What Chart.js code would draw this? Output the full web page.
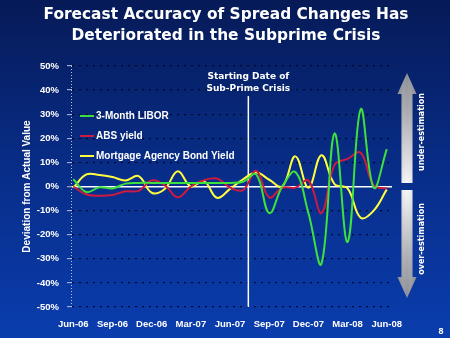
<!DOCTYPE html>
<html><head><meta charset="utf-8">
<script src="https://cdn.jsdelivr.net/npm/chart.js@4.4.1/dist/chart.umd.min.js"></script>
<style>
html,body{margin:0;padding:0;background:#08308f;}
canvas{display:block}
</style></head><body>
<canvas id="c" width="450" height="338"></canvas>
<script>
const titleLines = ['Forecast Accuracy of Spread Changes Has', 'Deteriorated in the Subprime Crisis'];
const monthIndex = [0,1,2,3,4,5,6,7,8,9,10,11,12,13,14,15,16,17,18,19,20,21,22,23,24];
const tickPositions = [0,3,6,9,12,15,18,21,24];
const tickLabels = ['Jun-06','Sep-06','Dec-06','Mar-07','Jun-07','Sep-07','Dec-07','Mar-08','Jun-08'];
const seriesNames = ['3-Month LIBOR', 'ABS yield', 'Mortgage Agency Bond Yield'];
const libor    = [3, -2.3, -0.3, -0.8, 1.2, 1.5, 1.5, 1.5, 1.5, 1.5, 1.5, 1.5, 1.5, 2, 5, -11, 0, 6, -11, -32, 22, -23, 32, -0.5, 15.5];
const absYield = [0, -3.3, -3.8, -3.5, -2, -1.8, 2.5, 0.5, -4.5, 0, 2.6, 3.3, -0.4, -1.5, 6.5, -4.5, -0.5, -0.5, 2.5, -11, 9, 11.5, 14, 0.5, -0.8];
const mortgage = [-0.5, 5, 4.8, 3.9, 2.5, 4.3, -2.6, -1, 6.3, 0, 2.2, -4.7, -1, 3, 5.8, 2.8, 0, 12.5, -0.5, 13, 1, -0.8, -13, -10, -1.2];
const seriesColors = ['#3ee03e', '#cc1a40', '#ffff40'];
const yTickValues = [-50,-40,-30,-20,-10,0,10,20,30,40,50];
const yTitle = 'Deviation from Actual Value';
const crisisMonth = 13.4;
const crisisTop = 37.5;
const crisisLabel = ['Starting Date of', 'Sub-Prime Crisis'];
const arrowLabels = ['under-estimation', 'over-estimation'];
const pageNumber = '8';

const mkData = vals => monthIndex.map((m, i) => ({x: m, y: vals[i]}));
const seriesValues = [libor, absYield, mortgage];

const decor = {
  id: 'decor',
  beforeDraw(chart) {
    const ctx = chart.ctx;
    const g = ctx.createLinearGradient(0, 0, 0, chart.height);
    g.addColorStop(0, '#061a57');
    g.addColorStop(0.5, '#082d88');
    g.addColorStop(1, '#0a3dae');
    ctx.save();
    ctx.fillStyle = g;
    ctx.fillRect(0, 0, chart.width, chart.height);
    ctx.restore();
  },
  beforeDatasetsDraw(chart) {
    const {ctx, scales: {x, y}, chartArea} = chart;
    ctx.save();
    // dotted y-axis line
    ctx.strokeStyle = '#b8c2dc';
    ctx.lineWidth = 1;
    ctx.setLineDash([1, 2]);
    ctx.beginPath();
    ctx.moveTo(chartArea.left - 0.5, chartArea.top);
    ctx.lineTo(chartArea.left - 0.5, chartArea.bottom);
    ctx.stroke();
    ctx.setLineDash([]);
    const px = x.getPixelForValue(crisisMonth);
    ctx.strokeStyle = '#ffffff';
    ctx.lineWidth = 1.5;
    ctx.beginPath();
    ctx.moveTo(px, y.getPixelForValue(crisisTop));
    ctx.lineTo(px, y.getPixelForValue(-50));
    ctx.stroke();
    ctx.fillStyle = '#ffffff';
    ctx.font = 'bold 9px "DejaVu Sans"';
    ctx.textAlign = 'center';
    ctx.textBaseline = 'middle';
    ctx.fillText(crisisLabel[0], px, 77);
    ctx.fillText(crisisLabel[1], px, 89);
    ctx.restore();
  },
  afterDraw(chart) {
    const {ctx} = chart;
    ctx.save();
    ctx.fillStyle = '#ffffff';
    ctx.font = 'bold 15.4px "DejaVu Sans"';
    ctx.textAlign = 'center';
    ctx.textBaseline = 'alphabetic';
    ctx.fillText(titleLines[0], 226, 18.5);
    ctx.fillText(titleLines[1], 226, 40);
    ctx.font = 'bold 10px "Liberation Sans"';
    ctx.textAlign = 'left';
    ctx.textBaseline = 'middle';
    chart.data.datasets.forEach((ds, i) => {
      const yy = 116 + i * 20;
      ctx.strokeStyle = ds.borderColor;
      ctx.lineWidth = 2;
      ctx.beginPath();
      ctx.moveTo(80, yy); ctx.lineTo(94, yy);
      ctx.stroke();
      ctx.fillStyle = '#ffffff';
      ctx.fillText(ds.label, 96, yy);
    });
    const drawArrow = (cx, tip, base, end, hh, sh) => {
      const g = ctx.createLinearGradient(0, tip, 0, end);
      g.addColorStop(0, '#8c8e96');
      g.addColorStop(0.35, '#a8aab0');
      g.addColorStop(1, '#f6f6f8');
      ctx.fillStyle = g;
      ctx.beginPath();
      ctx.moveTo(cx, tip);
      ctx.lineTo(cx + hh, base);
      ctx.lineTo(cx + sh, base);
      ctx.lineTo(cx + sh, end);
      ctx.lineTo(cx - sh, end);
      ctx.lineTo(cx - sh, base);
      ctx.lineTo(cx - hh, base);
      ctx.closePath();
      ctx.fill();
      const h = ctx.createLinearGradient(cx - hh, 0, cx + hh, 0);
      h.addColorStop(0, 'rgba(90,90,100,0.35)');
      h.addColorStop(0.5, 'rgba(255,255,255,0)');
      h.addColorStop(1, 'rgba(90,90,100,0.35)');
      ctx.fillStyle = h;
      ctx.fill();
    };
    drawArrow(407, 73, 94, 183, 9.5, 5.5);
    drawArrow(407, 298, 277, 190, 9.5, 5.5);
    ctx.fillStyle = '#ffffff';
    ctx.font = 'bold 8px "DejaVu Sans"';
    ctx.textAlign = 'center';
    ctx.textBaseline = 'middle';
    ctx.translate(422, 132);
    ctx.rotate(-Math.PI / 2);
    ctx.fillText(arrowLabels[0], 0, 0);
    ctx.rotate(Math.PI / 2);
    ctx.translate(0, 107);
    ctx.rotate(-Math.PI / 2);
    ctx.fillText(arrowLabels[1], 0, 0);
    ctx.restore();
    ctx.save();
    ctx.fillStyle = '#ffffff';
    ctx.font = 'bold 9px "Liberation Sans"';
    ctx.textAlign = 'center';
    ctx.textBaseline = 'middle';
    ctx.fillText(pageNumber, 441, 332);
    ctx.restore();
  }
};

new Chart(document.getElementById('c'), {
  type: 'line',
  data: {
    datasets: seriesNames.map((name, i) => ({
      label: name,
      data: mkData(seriesValues[i]),
      borderColor: seriesColors[i],
      backgroundColor: seriesColors[i],
      borderWidth: 2,
      pointRadius: 0,
      tension: 0.4,
      fill: false
    }))
  },
  options: {
    responsive: false,
    animation: false,
    events: [],
    layout: {padding: {left: 0, right: 58, top: 66, bottom: 0}},
    plugins: {legend: {display: false}, title: {display: false}, tooltip: {enabled: false}},
    scales: {
      x: {
        type: 'linear',
        min: -0.1,
        max: 24.4,
        afterBuildTicks: s => { s.ticks = tickPositions.map(v => ({value: v})); },
        afterFit: s => { s.height = 31; },
        grid: {display: false, drawTicks: false},
        border: {display: false},
        ticks: {
          autoSkip: false,
          maxRotation: 0,
          padding: 12,
          color: '#ffffff',
          font: {family: 'Liberation Sans', weight: 'bold', size: 9.5},
          callback: v => tickLabels[tickPositions.indexOf(v)]
        }
      },
      y: {
        min: -50,
        max: 50,
        afterBuildTicks: s => { s.ticks = yTickValues.map(v => ({value: v})); },
        afterFit: s => { s.width = 72; },
        grid: {
          color: c => (c.tick && c.tick.value === 0) ? '#ffffff' : 'rgba(0,6,35,0.9)',
          lineWidth: c => (c.tick && c.tick.value === 0) ? 1.5 : 1.3,
          tickLength: 5,
          tickColor: '#b8c2dc',
          tickWidth: 1
        },
        border: {
          display: false,
          color: '#b8c2dc',
          width: 1,
          dash: c => (c.tick && c.tick.value === 0) ? [] : [2, 5]
        },
        ticks: {
          padding: 8,
          color: '#ffffff',
          font: {family: 'Liberation Sans', weight: 'bold', size: 9.5},
          callback: v => v + '%'
        },
        title: {
          display: true,
          text: yTitle,
          color: '#ffffff',
          font: {family: 'Liberation Sans', weight: 'bold', size: 10},
          padding: {top: 21, bottom: 0}
        }
      }
    }
  },
  plugins: [decor]
});
</script>
</body></html>
